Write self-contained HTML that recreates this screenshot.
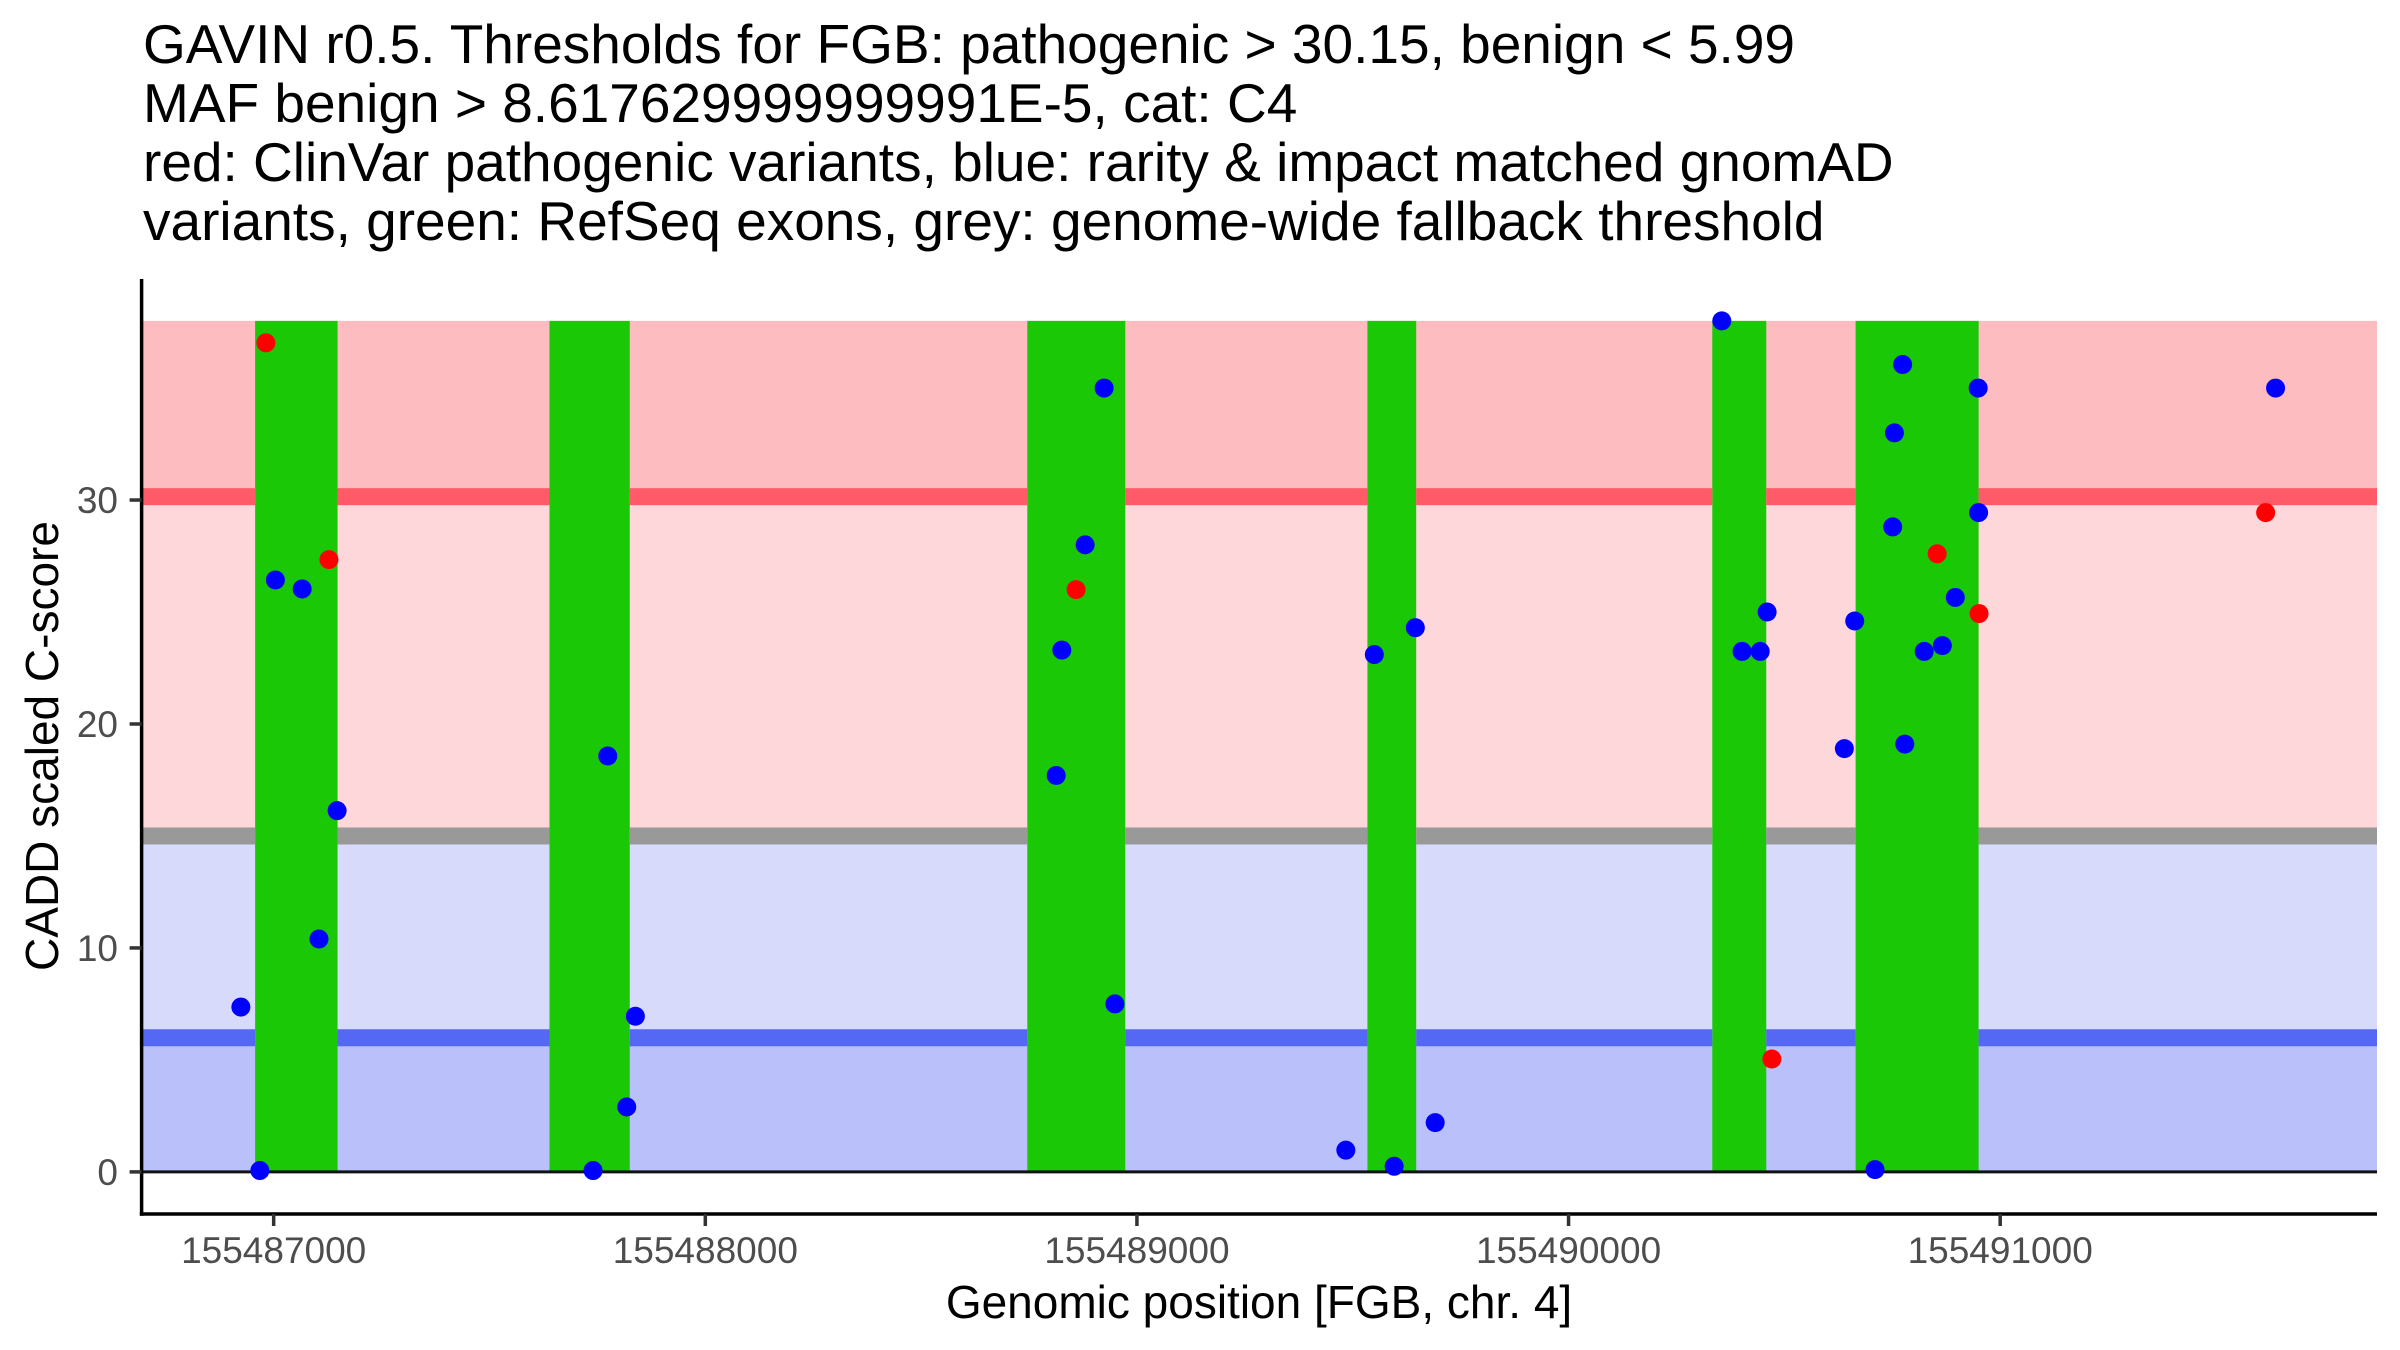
<!DOCTYPE html>
<html><head><meta charset="utf-8"><style>
html,body{margin:0;padding:0;background:#fff;}
svg{display:block;font-family:"Liberation Sans",Arial,sans-serif;}
</style></head><body>
<svg id="chart" width="2400" height="1350" viewBox="0 0 2400 1350" xmlns="http://www.w3.org/2000/svg">
<g font-size="55" fill="#000">
<text x="143" y="63">GAVIN r0.5. Thresholds for FGB: pathogenic &gt; 30.15, benign &lt; 5.99</text>
<text x="143" y="122">MAF benign &gt; 8.617629999999991E-5, cat: C4</text>
<text x="143" y="181">red: ClinVar pathogenic variants, blue: rarity &amp; impact matched gnomAD</text>
<text x="143" y="240">variants, green: RefSeq exons, grey: genome-wide fallback threshold</text>
</g>
<g id="bands"></g>
<g id="exons"></g>
<g id="lines"></g>
<g id="points"></g>
<g id="axes"></g>
<text x="1259" y="1318" font-size="46" text-anchor="middle" fill="#000">Genomic position [FGB, chr. 4]</text>
<text transform="translate(58,746) rotate(-90)" font-size="46" text-anchor="middle" fill="#000">CADD scaled C-score</text>
</svg>
<script>
const xTicks = [155487000, 155488000, 155489000, 155490000, 155491000];
const yTicks = [0, 10, 20, 30];
const exonStarts = [155486957, 155487639, 155488746, 155489534, 155490333, 155490665];
const exonEnds   = [155487148, 155487825, 155488973, 155489647, 155490458, 155490950];
const thresholds = [30.15, 15, 5.99];
const bandTop = 38;
const blueX = [155487004,155487066,155487147,155487105,155486924,155486968,155487774,155487838,155487818,155487740,
  155488924,155488880,155488826,155488813,155488949,155489550,155489645,155489484,155489596,155489691,
  155490355,155490774,155490949,155491638,155490755,155490950,155490751,155490896,155490460,155490663,
  155490402,155490444,155490824,155490866,155490639,155490779,155490710];
const blueY = [26.43,26.03,16.13,10.4,7.36,0.06,18.57,6.95,2.9,0.06,
  35.0,28.0,23.3,17.7,7.5,23.1,24.3,0.97,0.25,2.2,
  38.0,36.05,35.0,35.0,33.0,29.44,28.8,25.65,25.0,24.6,
  23.24,23.24,23.24,23.5,18.9,19.1,0.1];
const redX = [155486982,155487128,155488859,155491615,155490854,155490951,155490471];
const redY = [37.02,27.34,26.0,29.44,27.6,24.93,5.04];

const NS = "http://www.w3.org/2000/svg";
const X0 = 141.6, X1 = 2377, xMin = 155486694, xMax = 155491873;
const Y0 = 1214, Y1 = 279, yMin = -1.88, yMax = 39.87;
function sx(v){ return X0 + (v - xMin) / (xMax - xMin) * (X1 - X0); }
function sy(v){ return Y0 - (v - yMin) / (yMax - yMin) * (Y0 - Y1); }
function mk(tag, attrs, parent){ const e = document.createElementNS(NS, tag); for (const k in attrs) e.setAttribute(k, attrs[k]); parent.appendChild(e); return e; }

const bands = document.getElementById('bands');
const bandColors = ['#FDBCC0', '#FED7DB', '#D8DAFC', '#BAC0FA'];
const bandEdges = [bandTop, thresholds[0], thresholds[1], thresholds[2], 0];
for (let i = 0; i < 4; i++) {
  const r = mk('rect', {x: X0, y: sy(bandEdges[i]), width: X1 - X0, height: sy(bandEdges[i+1]) - sy(bandEdges[i]), fill: bandColors[i]}, bands);
  
  
}
const exons = document.getElementById('exons');
for (let i = 0; i < exonStarts.length; i++) {
  const r = mk('rect', {x: sx(exonStarts[i]), y: sy(bandTop), width: sx(exonEnds[i]) - sx(exonStarts[i]), height: sy(0) - sy(bandTop), fill: '#1AC805'}, exons);
  
  
}
const lines = document.getElementById('lines');
const lineColors = ['#FF5A68', '#999999', '#5468F4'];
for (let i = 0; i < thresholds.length; i++) {
  const segs = [[X0, sx(exonStarts[0])]];
  for (let j = 0; j < exonStarts.length; j++) segs.push([sx(exonEnds[j]), j + 1 < exonStarts.length ? sx(exonStarts[j+1]) : X1]);
  segs.forEach(s => {
    const l = mk('rect', {x: s[0], y: sy(thresholds[i]) - 8.5, width: s[1] - s[0], height: 17, fill: lineColors[i]}, lines);
    
    
  });
}
const zl = mk('line', {x1: X0, x2: X1, y1: sy(0), y2: sy(0), stroke: '#111', 'stroke-width': 3}, lines);



const pts = document.getElementById('points');
for (let i = 0; i < blueX.length; i++) {
  const c = mk('circle', {cx: sx(blueX[i]), cy: sy(blueY[i]), r: 9.5, fill: '#0000FF'}, pts);
  
  
}
for (let i = 0; i < redX.length; i++) {
  const c = mk('circle', {cx: sx(redX[i]), cy: sy(redY[i]), r: 9.5, fill: '#FF0000'}, pts);
  
  
}

const axes = document.getElementById('axes');
const ya = mk('line', {x1: X0, x2: X0, y1: Y1, y2: Y0 + 1.75, stroke: '#000', 'stroke-width': 3.5}, axes);


const xa = mk('line', {x1: X0 - 1.75, x2: X1, y1: Y0, y2: Y0, stroke: '#000', 'stroke-width': 3.5}, axes);


yTicks.forEach(v => {
  const t = mk('line', {x1: X0 - 12, x2: X0, y1: sy(v), y2: sy(v), stroke: '#333', 'stroke-width': 3.5}, axes);
  
  
  const tx = mk('text', {x: 118, y: sy(v) + 13, 'font-size': 37, 'text-anchor': 'end', fill: '#4D4D4D'}, axes);
  tx.textContent = String(v);
  
  
});
xTicks.forEach(v => {
  const t = mk('line', {x1: sx(v), x2: sx(v), y1: Y0, y2: Y0 + 12, stroke: '#333', 'stroke-width': 3.5}, axes);
  
  
  const tx = mk('text', {x: sx(v), y: 1263, 'font-size': 37, 'text-anchor': 'middle', fill: '#4D4D4D'}, axes);
  tx.textContent = String(v);
  
  
});
</script>
</body></html>
